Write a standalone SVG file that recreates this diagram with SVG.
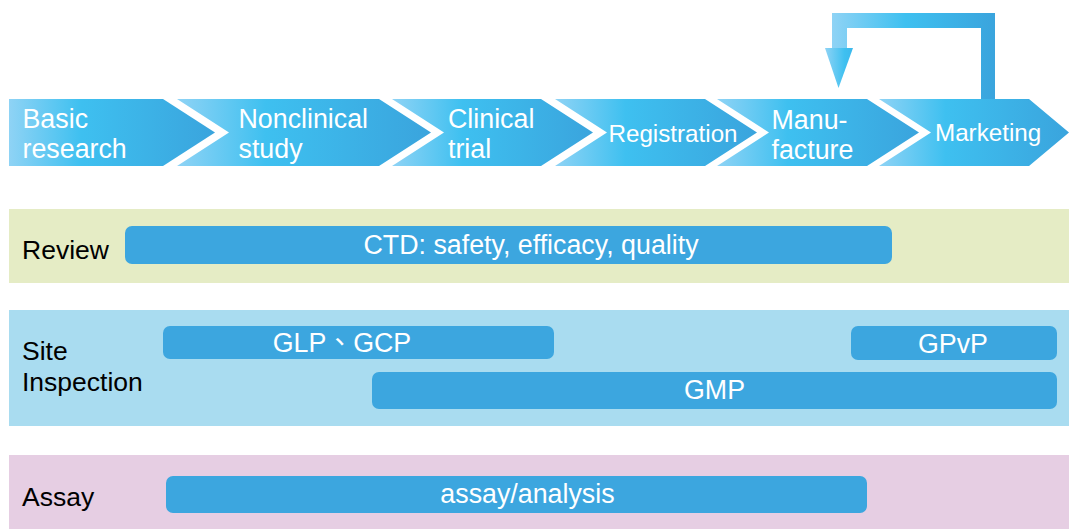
<svg xmlns="http://www.w3.org/2000/svg" width="1069" height="529" viewBox="0 0 1069 529">
<defs>
<linearGradient id="gBlue" x1="0" y1="0" x2="1" y2="0">
<stop offset="0" stop-color="#8fd3f5"/>
<stop offset="0.35" stop-color="#3ec0f0"/>
<stop offset="1" stop-color="#3aa4dd"/>
</linearGradient>
<linearGradient id="gArrow" x1="0" y1="0" x2="1" y2="0">
<stop offset="0" stop-color="#8fd3f5"/>
<stop offset="0.45" stop-color="#3ec0f0"/>
<stop offset="1" stop-color="#3aa4dd"/>
</linearGradient>
<linearGradient id="gHead" x1="0" y1="0" x2="1" y2="0">
<stop offset="0" stop-color="#8fd3f5"/>
<stop offset="0.7" stop-color="#3ec0f0"/>
<stop offset="1" stop-color="#3cb8ec"/>
</linearGradient>
</defs>
<style>
.chev{fill:url(#gBlue);}
.ct{font-family:"Liberation Sans",Arial,sans-serif;fill:#ffffff;font-size:26.8px;}
.ct1{font-family:"Liberation Sans",Arial,sans-serif;fill:#ffffff;font-size:24.2px;}
.band-review{fill:#e5ecc5;}
.band-site{fill:#a9dcf0;}
.band-assay{fill:#e6cee3;}
.bar{fill:#3ca6df;}
.bt{font-family:"Liberation Sans","Noto Sans CJK TC",Arial,sans-serif;fill:#ffffff;font-size:26.8px;text-anchor:middle;}
.lbl{font-family:"Liberation Sans",Arial,sans-serif;fill:#000000;font-size:26.5px;}
</style>
<rect width="1069" height="529" fill="#ffffff"/>

<g id="stage-basic">
<path class="chev" d="M9,99 H163 L215,132.5 L163,166 H9 Z"/>
<text class="ct" x="22.5" y="128">Basic</text>
<text class="ct" x="22.5" y="158">research</text>
</g>
<g id="stage-nonclinical">
<path class="chev" d="M177,99 H379 L431,132.5 L379,166 H177 L229,132.5 Z"/>
<text class="ct" x="238.5" y="128">Nonclinical</text>
<text class="ct" x="238.5" y="158">study</text>
</g>
<g id="stage-clinical">
<path class="chev" d="M392,99 H541 L593,132.5 L541,166 H392 L444,132.5 Z"/>
<text class="ct" x="448" y="128">Clinical</text>
<text class="ct" x="448" y="158">trial</text>
</g>
<g id="stage-registration">
<path class="chev" d="M555,99 H705 L757,132.5 L705,166 H555 L607,132.5 Z"/>
<text class="ct1" x="608.5" y="141.5">Registration</text>
</g>
<g id="stage-manufacture">
<path class="chev" d="M717,99 H867 L919,132.5 L867,166 H717 L769,132.5 Z"/>
<text class="ct" x="771.5" y="129">Manu-</text>
<text class="ct" x="771.5" y="158.5">facture</text>
</g>
<g id="stage-marketing">
<path class="chev" d="M879,99 H1029 L1069,132.5 L1029,166 H879 L931,132.5 Z"/>
<text class="ct1" x="935" y="141">Marketing</text>
</g>

<g id="connectors">
<path fill="url(#gArrow)" d="M832,13 H995 V99 H981 V28 H847 V48 H832 Z"/>
<path fill="url(#gHead)" d="M825,48 H853 L838.5,88 Z"/>
</g>

<g id="review">
<rect class="band-review" x="9" y="209" width="1060" height="74"/>
<text class="lbl" x="22" y="259">Review</text>
<rect class="bar" x="125" y="226" width="767" height="38" rx="7"/>
<text class="bt" x="531" y="254">CTD: safety, efficacy, quality</text>
</g>

<g id="site-inspection">
<rect class="band-site" x="9" y="310" width="1060" height="116"/>
<text class="lbl" x="22" y="360">Site</text>
<text class="lbl" x="22" y="391">Inspection</text>
<g id="glp-gcp">
<rect class="bar" x="163" y="326" width="391" height="33" rx="7"/>
<text class="bt" x="342" y="352">GLP、GCP</text>
</g>
<g id="gpvp">
<rect class="bar" x="851" y="326" width="206" height="34" rx="7"/>
<text class="bt" x="953" y="352.5">GPvP</text>
</g>
<g id="gmp">
<rect class="bar" x="372" y="372" width="685" height="37" rx="7"/>
<text class="bt" x="714.5" y="399">GMP</text>
</g>
</g>

<g id="assay">
<rect class="band-assay" x="9" y="455" width="1060" height="74"/>
<text class="lbl" x="22" y="506">Assay</text>
<rect class="bar" x="166" y="476" width="701" height="37" rx="7"/>
<text class="bt" x="527.5" y="503">assay/analysis</text>
</g>
</svg>
